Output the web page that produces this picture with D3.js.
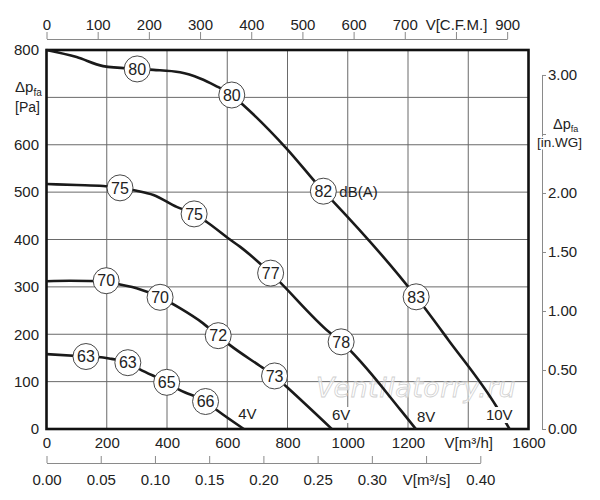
<!DOCTYPE html>
<html><head><meta charset="utf-8">
<script src="https://cdn.jsdelivr.net/npm/d3@7"></script>
<style>
body{margin:0;background:#fff;}
svg{display:block;font-family:"Liberation Sans",Arial,sans-serif;}
</style></head>
<body><svg id="c" width="600" height="500"></svg>
<script>
// ---- data ----
const flowTicks = [0,200,400,600,800,1000,1200,1400,1600];          // m3/h
const pressureTicks = [0,100,200,300,400,500,600,700,800];          // Pa
const cfmTicks = [0,100,200,300,400,500,600,700,800,900];
const m3sTicks = [0,0.05,0.10,0.15,0.20,0.25,0.30,0.35,0.40];
const inwgTicks = [0,0.5,1.0,1.5,2.0,2.5,3.0];

const voltages = ["4V","6V","8V","10V"];
const curve10V = [[0,800],[100,785],[188,766],[301,760],[355,758],[443,753],[510,740],[560,725],[615,705],[653,684],[797,592],[919,502],[952,480],[1227,279],[1334,188],[1494,47],[1537,0]];
const curve8V  = [[0,517],[100,515],[188,513],[244,509],[299,503],[355,494],[432,469],[490,454],[532,437],[609,400],[642,385],[744,329],[941,203],[978,184],[1173,42],[1226,0]];
const curve6V  = [[0,312],[78,313],[198,312],[244,305],[299,297],[377,278],[443,255],[520,223],[570,197],[609,177],[709,133],[757,112],[797,89],[947,0]];
const curve4V  = [[0,158],[131,153],[188,151],[216,148],[270,140],[310,126],[399,98.5],[443,82],[528,58],[565,40],[655,0]];

const noise10V = [[301,760,80],[615,705,80],[919,502,82],[1227,279,83]];
const noise8V  = [[244,509,75],[490,454,75],[744,329,77],[978,184,78]];
const noise6V  = [[198,313,70],[377,278,70],[570,197,72],[757,112,73]];
const noise4V  = [[131,153,63],[270,140,63],[399,98.5,65],[528,58,66]];

const voltageLabelPos = [[667,32],[978,29.5],[1260,27],[1503,29.5]];
const dbUnit = "dB(A)";
const watermark = "Ventilatorry.ru";

// ---- drawing ----
const svg = d3.select("#c");
const FS = 15;
const x = d3.scaleLinear().domain([0,1600]).range([46.5,528.5]);
const y = d3.scaleLinear().domain([0,800]).range([429,50]);
const CFM = 1.699011, INWG = 249.089;
const xc = d3.scaleLinear().domain([0,900]).range([x(0), x(900*CFM)]);
const xs = d3.scaleLinear().domain([0,0.4]).range([x(0), x(0.4*3600)]);
const yi = d3.scaleLinear().domain([0,3]).range([y(0), y(3*INWG)]);

// grid
const grid = svg.append("g").attr("stroke","#6a6a6a").attr("stroke-width",1);
grid.selectAll("line.v").data(flowTicks.slice(1,-1)).join("line")
  .attr("x1",d=>x(d)).attr("x2",d=>x(d)).attr("y1",y(800)).attr("y2",y(0));
grid.selectAll("line.h").data(pressureTicks.slice(1,-1)).join("line")
  .attr("y1",d=>y(d)).attr("y2",d=>y(d)).attr("x1",x(0)).attr("x2",x(1600));

// watermark above grid (semi transparent)
svg.append("text").attr("x",316).attr("y",397)
  .attr("font-family","DejaVu Sans").attr("font-style","italic").attr("font-size",27)
  .attr("fill","#fff").attr("fill-opacity",0.6).attr("stroke","#d0d0d0").attr("stroke-width",0.8)
  .attr("letter-spacing",0.5).text(watermark);

function styleAxis(g){
  g.selectAll("path.domain").attr("stroke","#8a8a8a");
  g.selectAll(".tick line").attr("stroke","#8a8a8a");
  g.selectAll("text").attr("font-size",FS).attr("fill","#222").attr("font-family","Liberation Sans, Arial, sans-serif");
}

// left axis
const gl = svg.append("g").attr("transform",`translate(${x(0)},0)`)
  .call(d3.axisLeft(y).tickValues(pressureTicks).tickSize(0).tickPadding(7.5).tickFormat(d=>d===700?"":d));
styleAxis(gl); gl.select("path.domain").remove();

// bottom axis m3/h
const gb = svg.append("g").attr("transform",`translate(0,${y(0)})`)
  .call(d3.axisBottom(x).tickValues(flowTicks).tickSize(0).tickPadding(8.5).tickFormat(d=>d===1400?"V[m³/h]":d));
styleAxis(gb); gb.select("path.domain").remove();

// top axis CFM
const gt = svg.append("g").attr("transform","translate(0,39)")
  .call(d3.axisTop(xc).tickValues(cfmTicks).tickSizeInner(7).tickSizeOuter(0).tickPadding(2.5).tickFormat(d=>d===800?"V[C.F.M.]":d));
styleAxis(gt);

// bottom axis m3/s
const gs = svg.append("g").attr("transform","translate(0,463)")
  .call(d3.axisBottom(xs).tickValues(m3sTicks).tickSizeInner(-7).tickSizeOuter(0).tickPadding(11.5)
    .tickFormat(d=>Math.abs(d-0.35)<1e-9?"V[m³/s]":d3.format(".2f")(d)));
styleAxis(gs);

// right axis in.WG
const gr = svg.append("g").attr("transform","translate(542,0)")
  .call(d3.axisRight(yi).tickValues(inwgTicks).tickSizeInner(4).tickSizeOuter(0).tickPadding(2)
    .tickFormat(d=>d===2.5?"":d3.format(".2f")(d)));
styleAxis(gr);

// axis titles
const lt = svg.append("g").attr("fill","#222");
const t1 = lt.append("text").attr("x",15).attr("y",91.5).attr("font-size",15);
t1.append("tspan").text("Δp");
t1.append("tspan").attr("font-size",10).attr("dy",4.5).text("fa");
lt.append("text").attr("x",15).attr("y",112).attr("font-size",14).text("[Pa]");
const t2 = lt.append("text").attr("x",553).attr("y",129).attr("font-size",14.5);
t2.append("tspan").text("Δp");
t2.append("tspan").attr("font-size",9).attr("dy",2.5).text("fa");
lt.append("rect").attr("x",536).attr("y",136.5).attr("width",48).attr("height",13).attr("fill","#fff");
lt.append("text").attr("x",537).attr("y",147).attr("font-size",13.5).text("[in.WG]");

// frame
svg.append("rect").attr("x",x(0)).attr("y",y(800)).attr("width",x(1600)-x(0)).attr("height",y(0)-y(800))
  .attr("fill","none").attr("stroke","#111").attr("stroke-width",2.6);

// curves
const curves = [curve4V,curve6V,curve8V,curve10V];
const noises = [noise4V,noise6V,noise8V,noise10V];
const line = d3.line().x(d=>x(d[0])).y(d=>y(d[1])).curve(d3.curveMonotoneX);
svg.append("g").selectAll("path").data(curves).join("path")
  .attr("d",line).attr("fill","none").attr("stroke","#1a1a1a").attr("stroke-width",2.6);

// voltage labels with white backgrounds
const vl = svg.append("g").selectAll("g").data(voltages).join("g")
  .attr("transform",(d,i)=>`translate(${x(voltageLabelPos[i][0])},${y(voltageLabelPos[i][1])})`);
vl.append("rect").attr("x",d=>-d.length*4.6).attr("y",-8).attr("width",d=>d.length*9.2).attr("height",16).attr("fill","#fff");
vl.append("text").attr("text-anchor","middle").attr("dy","0.36em").attr("font-size",FS).attr("fill","#222").text(d=>d);

// noise circles
const nz = svg.append("g").selectAll("g").data(noises.flat()).join("g")
  .attr("transform",d=>`translate(${x(d[0])},${y(d[1])})`);
nz.append("circle").attr("r",13).attr("fill","#fff").attr("stroke","#333").attr("stroke-width",0.9);
nz.append("text").attr("text-anchor","middle").attr("dy","0.36em").attr("font-size",16).attr("fill","#222").text(d=>d[2]);

// dB(A) unit
svg.append("text").attr("x",x(noise10V[2][0])+16).attr("y",y(noise10V[2][1])).attr("dy","0.36em")
  .attr("font-size",FS).attr("fill","#222").text(dbUnit);
</script></body></html>
